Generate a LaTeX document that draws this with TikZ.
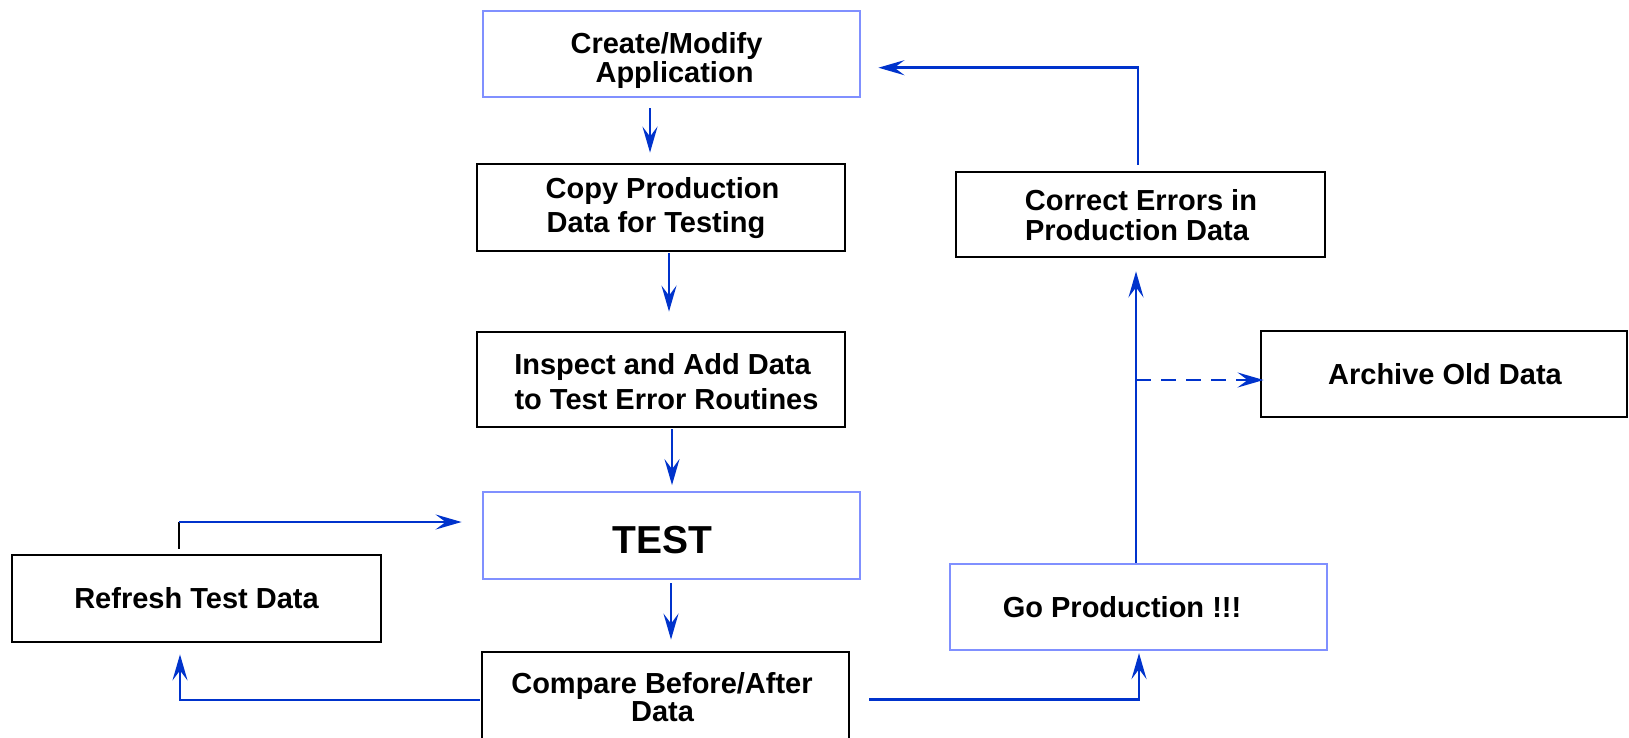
\documentclass[tikz,border=0pt]{standalone}
\usepackage{fontspec}
\setmainfont{Liberation Sans}
\usetikzlibrary{arrows.meta}
\definecolor{arrblue}{RGB}{0,51,204}
\definecolor{boxblue}{RGB}{128,144,255}
\tikzset{
  box/.style={draw=black, line width=2.8pt, rectangle, inner sep=0pt},
  bluebox/.style={draw=boxblue, line width=2.8pt, rectangle, inner sep=0pt},
  txt/.style={font=\fontsize{29}{34}\selectfont\bfseries, inner sep=0pt, anchor=base},
  bigtxt/.style={font=\fontsize{39}{44}\selectfont\bfseries, inner sep=0pt, anchor=base},
  arr/.style={draw=arrblue, line width=2.7pt, -{Stealth[length=26pt,width=15pt,inset=10pt]}},
  blackline/.style={draw=black, line width=2.7pt},
  dashedarr/.style={arr, dash pattern=on 15pt off 10pt}
}
\begin{document}
\begin{tikzpicture}[x=1pt,y=-1pt]
\useasboundingbox (0,0) rectangle (1629,737);
% boxes
\node[bluebox, minimum width=377pt, minimum height=86pt] (create) at (671.5,54) {};
\node[box, minimum width=368pt, minimum height=87pt] (copy) at (661,207.5) {};
\node[box, minimum width=368pt, minimum height=95pt] (inspect) at (661,379.5) {};
\node[bluebox, minimum width=377pt, minimum height=87pt] (test) at (671.5,535.5) {};
\node[box, minimum width=367pt, minimum height=90pt] (compare) at (665.5,697) {};
\node[box, minimum width=369pt, minimum height=87pt] (refresh) at (196.5,598.5) {};
\node[bluebox, minimum width=377pt, minimum height=86pt] (go) at (1138.5,607) {};
\node[box, minimum width=369pt, minimum height=85pt] (correct) at (1140.5,214.5) {};
\node[box, minimum width=366pt, minimum height=86pt] (archive) at (1444,374) {};
% texts
\node[txt] (createA) at (666.5,53) {Create/Modify};
\node[txt] (createB) at (674.5,82) {Application};
\node[txt] (copyA) at (662.5,198.3) {Copy Production};
\node[txt] (copyB) at (656,232.7) {Data for Testing};
\node[txt] (inspectA) at (662.5,374) {Inspect and Add Data};
\node[txt] (inspectB) at (666.5,409.3) {to Test Error Routines};
\node[bigtxt] (testT) at (662.5,553.3) {TEST};
\node[txt] (compareA) at (662,693.3) {Compare Before/After};
\node[txt] (compareB) at (662.5,721) {Data};
\node[txt] (refreshT) at (196.5,608.3) {Refresh Test Data};
\node[txt] (goT) at (1122,617.3) {Go Production !!!};
\node[txt] (correctA) at (1141,210) {Correct Errors in};
\node[txt] (correctB) at (1137,240) {Production Data};
\node[txt] (archiveT) at (1445,384) {Archive Old Data};
% connectors
\draw[arr] ([xshift=-21.5pt,yshift=-10pt]create.south) -- ([xshift=-11pt,yshift=10pt]copy.north);
\draw[arr] ([xshift=8pt,yshift=-1pt]copy.south) -- ([xshift=8pt,yshift=19pt]inspect.north);
\draw[arr] ([xshift=11pt,yshift=-1pt]inspect.south) -- ([xshift=0.5pt,yshift=5.5pt]test.north);
\coordinate (testBot) at ([xshift=-0.5pt,yshift=-3pt]test.south);
\coordinate (cmpTop) at ([yshift=11pt]compare.north);
\draw[arr] (testBot) -- (testBot |- cmpTop);
\draw[arr] ([xshift=-1pt,yshift=-3pt]compare.west) -| ([xshift=-16.5pt,yshift=-11pt]refresh.south);
\coordinate (rfTop) at ([xshift=-17.5pt,yshift=5pt]refresh.north);
\coordinate (testTip) at ([xshift=-20pt,yshift=13.5pt]test.west);
\coordinate (rfCorner) at (rfTop |- testTip);
\draw[blackline] (rfTop) -- (rfCorner);
\draw[arr] (rfCorner) -- (testTip);
\draw[arr] ([xshift=19pt,yshift=-2.3pt]compare.east) -| ([xshift=0.5pt,yshift=-1.7pt]go.south);
\coordinate (goTop) at ([xshift=-2.5pt]go.north);
\coordinate (corrTip) at ([xshift=-4.5pt,yshift=-13pt]correct.south);
\draw[arr] (goTop) -- (goTop |- corrTip);
\coordinate (archTip) at ([xshift=4pt,yshift=-6pt]archive.west);
\coordinate (dashStart) at (goTop |- archTip);
\draw[dashedarr] (dashStart) -- (archTip);
\draw[arr] ([xshift=-2.5pt,yshift=6pt]correct.north) |- ([xshift=17pt,yshift=-13.7pt]create.east);
\end{tikzpicture}
\end{document}
